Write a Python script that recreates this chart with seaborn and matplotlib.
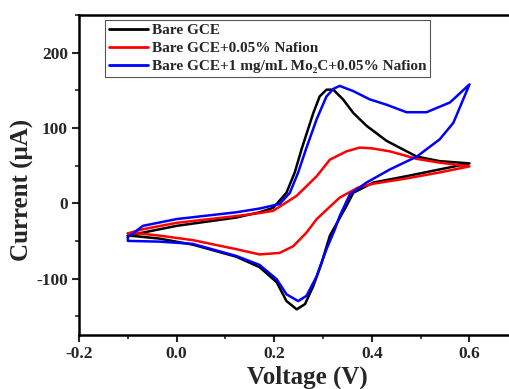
import pandas as pd
import numpy as np
import matplotlib
matplotlib.use("Agg")
import matplotlib.pyplot as plt
import seaborn as sns
from matplotlib.ticker import MultipleLocator

# Cyclic voltammograms (forward scan then reverse scan)
bare_v = [-0.100, -0.069, 0.000, 0.122, 0.170, 0.198, 0.225, 0.242, 0.256, 0.280, 0.293,
          0.307, 0.321, 0.341, 0.362, 0.389, 0.430, 0.492, 0.539, 0.600,
          0.539, 0.471, 0.403, 0.362, 0.348, 0.314, 0.297, 0.280, 0.263, 0.246, 0.225,
          0.205, 0.170, 0.122, 0.033, -0.035, -0.080, -0.100]
bare_i = [-43, -39, -30, -19, -12, -6, 14, 41, 72, 120, 142,
          151, 151, 138, 120, 103, 83, 62, 56, 53,
          45, 36, 27.5, 14, -3.5, -43, -79, -110, -134, -141, -130,
          -105, -85, -71, -55, -47, -44, -43]

nafion_v = [-0.100, -0.069, 0.000, 0.122, 0.170, 0.198, 0.246, 0.287, 0.314, 0.348, 0.375,
            0.400, 0.437, 0.492, 0.539, 0.600,
            0.539, 0.471, 0.403, 0.372, 0.334, 0.310, 0.287, 0.266, 0.239, 0.211, 0.170,
            0.122, 0.033, -0.035, -0.080, -0.100]
nafion_i = [-40, -34.5, -26, -17, -13, -10, 10, 36, 58, 69, 74,
            73, 69, 59, 54, 49,
            41, 33, 26, 21, 7.5, -7, -21, -39, -57, -66, -68,
            -61, -49, -43, -40, -40]

mo2c_v = [-0.100, -0.069, 0.000, 0.122, 0.170, 0.211, 0.232, 0.249, 0.265, 0.287, 0.307,
          0.321, 0.334, 0.362, 0.396, 0.430, 0.471, 0.512, 0.560, 0.600,
          0.567, 0.539, 0.492, 0.437, 0.389, 0.355, 0.334, 0.324, 0.307, 0.287, 0.266,
          0.249, 0.225, 0.205, 0.170, 0.122, 0.033, -0.035, -0.100, -0.100]
mo2c_i = [-45, -30, -21, -12, -7, -1, 14, 41, 72, 112, 142,
          152, 156, 149, 138, 131, 121, 121, 134, 158,
          107, 85, 62, 45, 27.5, 12, -17, -35, -61, -97, -123,
          -130, -121, -101, -82, -70, -54, -51, -50, -45]

labels = ["Bare GCE", "Bare GCE+0.05% Nafion", "Bare GCE+1 mg/mL Mo\u2082C+0.05% Nafion"]
colors = ["black", "red", "blue"]

frames = []
for lab, v, i in zip(labels, [bare_v, nafion_v, mo2c_v], [bare_i, nafion_i, mo2c_i]):
    frames.append(pd.DataFrame({"Voltage": v, "Current": i, "Electrode": lab}))
df = pd.concat(frames, ignore_index=True)

sns.set_style("ticks")
plt.rcParams["font.family"] = ["Liberation Serif", "DejaVu Serif"]
plt.rcParams["font.weight"] = "bold"
plt.rcParams["axes.unicode_minus"] = False

fig = plt.figure(figsize=(5.10, 3.89), dpi=100)
ax = fig.add_axes([0.155, 0.139, 0.845, 0.822])

for lab, col in zip(labels, colors):
    sub = df[df["Electrode"] == lab]
    sns.lineplot(data=sub, x="Voltage", y="Current", sort=False, color=col,
                 linewidth=1.8, label=lab, ax=ax, estimator=None)

ax.set_xlim(-0.2, 0.683)
ax.set_ylim(-175, 250)
ax.xaxis.set_minor_locator(MultipleLocator(0.1))
ax.yaxis.set_major_locator(MultipleLocator(100))
ax.yaxis.set_minor_locator(MultipleLocator(50))
ax.set_xticks([-0.2, 0.0, 0.2, 0.4, 0.6])
ax.set_xticklabels(["-0.2", "0.0", "0.2", "0.4", "0.6"])
ax.tick_params(which="major", direction="out", length=5, width=1.5, labelsize=12.5, pad=3)
ax.tick_params(which="minor", direction="out", length=3, width=1.2)
for t in ax.get_xticklabels() + ax.get_yticklabels():
    t.set_fontweight("bold")

for s in ["left", "bottom", "top"]:
    ax.spines[s].set_linewidth(1.8)
    ax.spines[s].set_color("black")
ax.spines["right"].set_visible(False)

ax.set_xlabel("Voltage (V)", fontsize=18, fontweight="bold")
ax.set_ylabel("Current (\u03bcA)", fontsize=18, fontweight="bold")
ax.xaxis.set_label_coords(0.53, -0.095)
ax.yaxis.set_label_coords(-0.105, 0.455)

leg = ax.legend(loc="upper left", bbox_to_anchor=(0.06, 0.985), borderaxespad=0,
                prop={"weight": "bold", "size": 11}, handlelength=2.6, handletextpad=0.2,
                labelspacing=0.28, borderpad=0.25, fancybox=False, framealpha=1)
leg.get_frame().set_edgecolor("#555555")
leg.get_frame().set_linewidth(0.8)
for line in leg.get_lines():
    line.set_linewidth(2)

fig.savefig("out.png", dpi=100)
